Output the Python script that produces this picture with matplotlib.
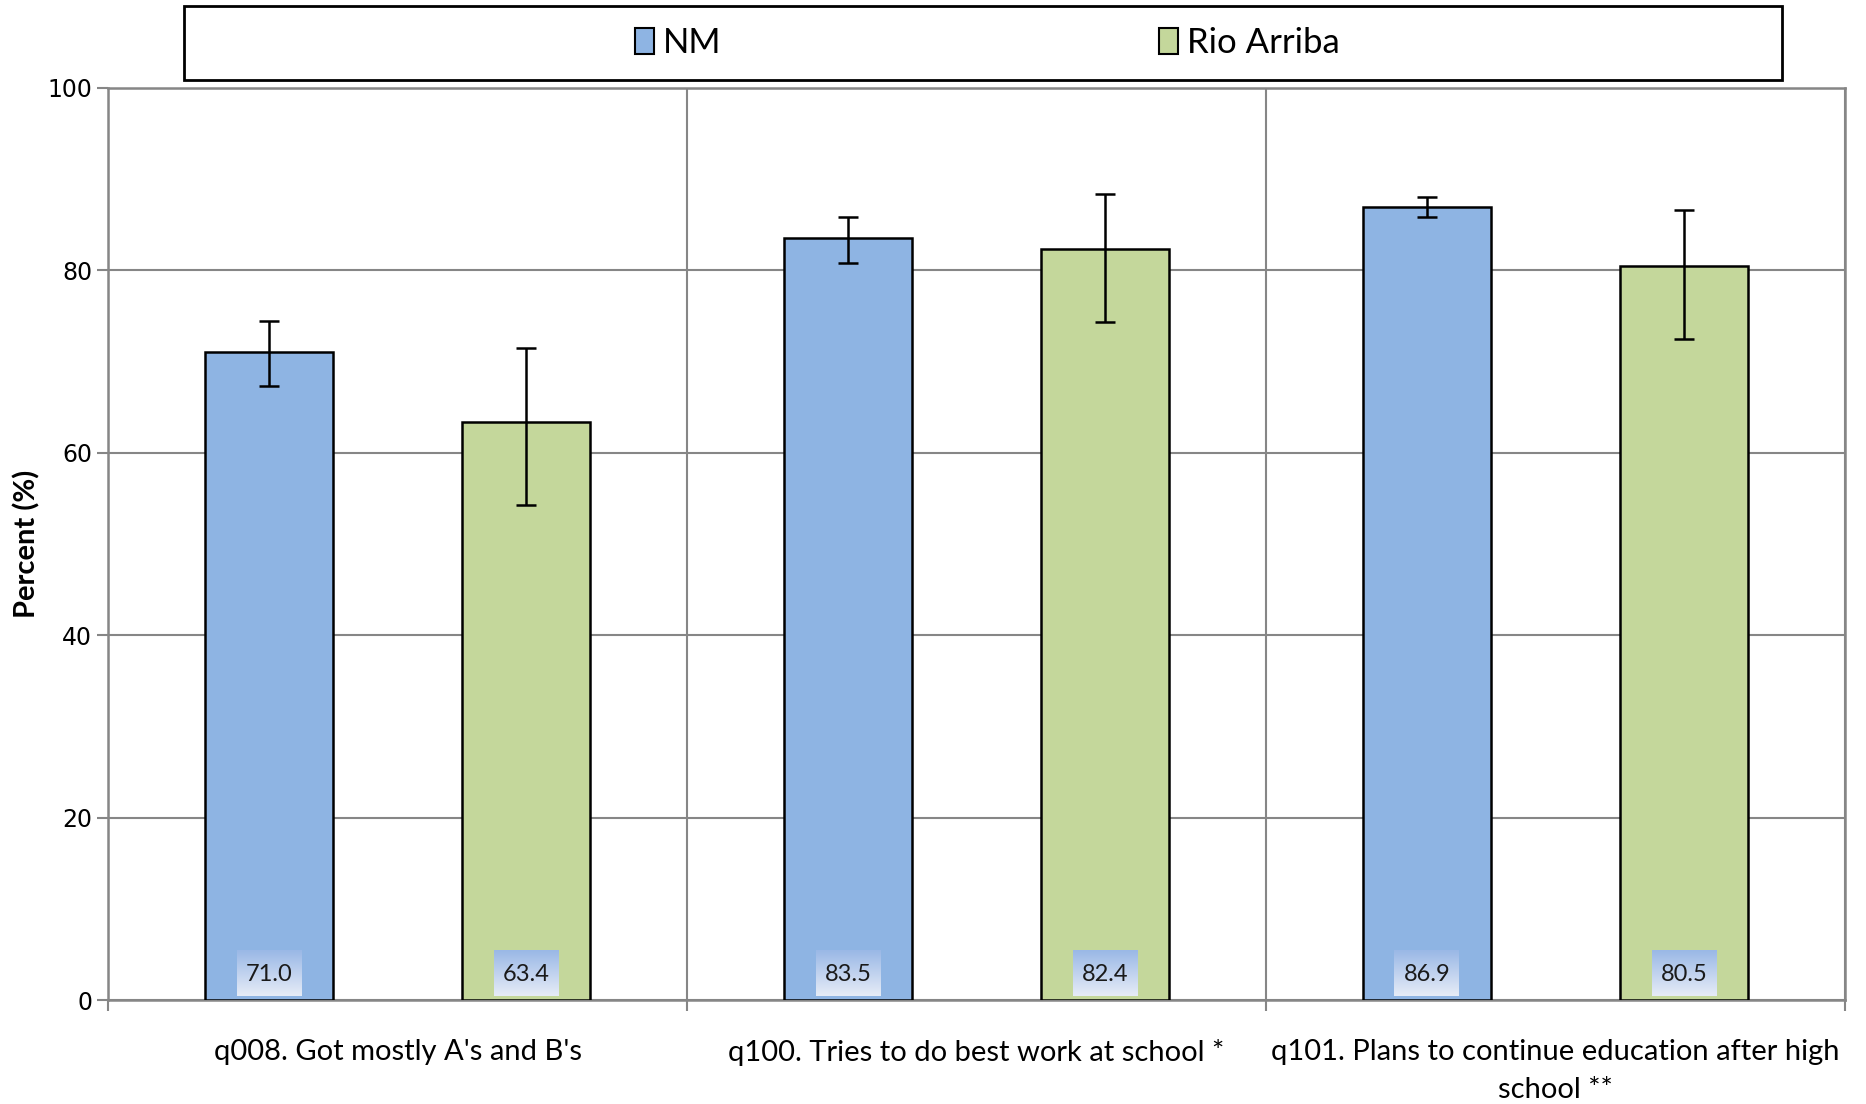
import matplotlib.pyplot as plt
from matplotlib.patches import Rectangle, Patch
from matplotlib.colors import LinearSegmentedColormap
import numpy as np

plt.rcParams['font.family'] = ['Lato', 'DejaVu Sans']

categories = ["q008. Got mostly A's and B's",
              "q100. Tries to do best work at school *",
              "q101. Plans to continue education after high\nschool **"]
series = ["NM", "Rio Arriba"]
nm_vals = [71.0, 83.5, 86.9]
nm_low = [67.3, 80.8, 85.9]
nm_high = [74.5, 85.9, 88.0]
ra_vals = [63.4, 82.4, 80.5]
ra_low = [54.3, 74.3, 72.5]
ra_high = [71.5, 88.4, 86.6]
colors = ["#8eb4e3", "#c4d79b"]

fig = plt.figure(figsize=(18.66, 11.04), dpi=100)
ax = fig.add_axes([0.0579, 0.0942, 0.9308, 0.8261])

x = np.arange(len(categories))
w = 0.222
off = 0.222
grad = np.linspace(0, 1, 50).reshape(-1, 1)
gcmap = LinearSegmentedColormap.from_list("g", ["#e6ecf7", "#9ab8e6"])

for k, (vals, lo, hi) in enumerate([(nm_vals, nm_low, nm_high), (ra_vals, ra_low, ra_high)]):
    pos = x + (off if k else -off)
    vals = np.array(vals)
    yerr = [vals - np.array(lo), np.array(hi) - vals]
    ax.bar(pos, vals, width=w, color=colors[k], edgecolor="black", linewidth=1.8, zorder=3)
    ax.errorbar(pos, vals, yerr=yerr, fmt="none", ecolor="black", elinewidth=1.8,
                capsize=7, capthick=1.8, zorder=4)
    for p, v in zip(pos, vals):
        ax.imshow(grad, extent=(p - 0.056, p + 0.056, 0.4, 5.35), aspect="auto",
                  cmap=gcmap, origin="lower", zorder=5)
        ax.text(p, 2.8, "%.1f" % v, ha="center", va="center", fontsize=17,
                color="#1a1a1a", zorder=6)

ax.set_xlim(-0.5, 2.5)
ax.set_ylim(0, 100)
ax.set_yticks(np.arange(0, 101, 20))
ax.set_yticklabels([str(t) for t in range(0, 101, 20)], family="DejaVu Sans", fontsize=17)
ax.set_xticks([-0.5, 0.5, 1.5, 2.5])
ax.set_xticklabels([])
ax.set_xticks(x, minor=True)
ax.set_xticklabels(categories, minor=True, fontsize=21, linespacing=1.6)
ax.tick_params(axis="x", which="minor", length=0, pad=28)
ax.tick_params(axis="both", which="major", color="#868686", length=8, width=1.5)
ax.grid(axis="y", color="#868686", linewidth=1.5, zorder=0)
ax.grid(axis="x", which="major", color="#868686", linewidth=1.5, zorder=0)
for s in ax.spines.values():
    s.set_color("#868686")
    s.set_linewidth(1.8)
ax.set_ylabel("Percent (%)", fontsize=21, fontweight="bold", labelpad=5)

# legend box
fig.patches.append(Rectangle((0.0986, 0.9275), 0.8564, 0.0671, transform=fig.transFigure,
                             facecolor="white", edgecolor="black", linewidth=2))
handles = [Patch(facecolor=colors[i], edgecolor="black", linewidth=1.5) for i in range(2)]
fig.legend(handles, series, loc="center", bbox_to_anchor=(0.529, 0.961), ncol=2,
           frameon=False, fontsize=25, handlelength=0.55, handleheight=0.75,
           handletextpad=0.25, columnspacing=12.6)

fig.savefig("out.png", dpi=100)
